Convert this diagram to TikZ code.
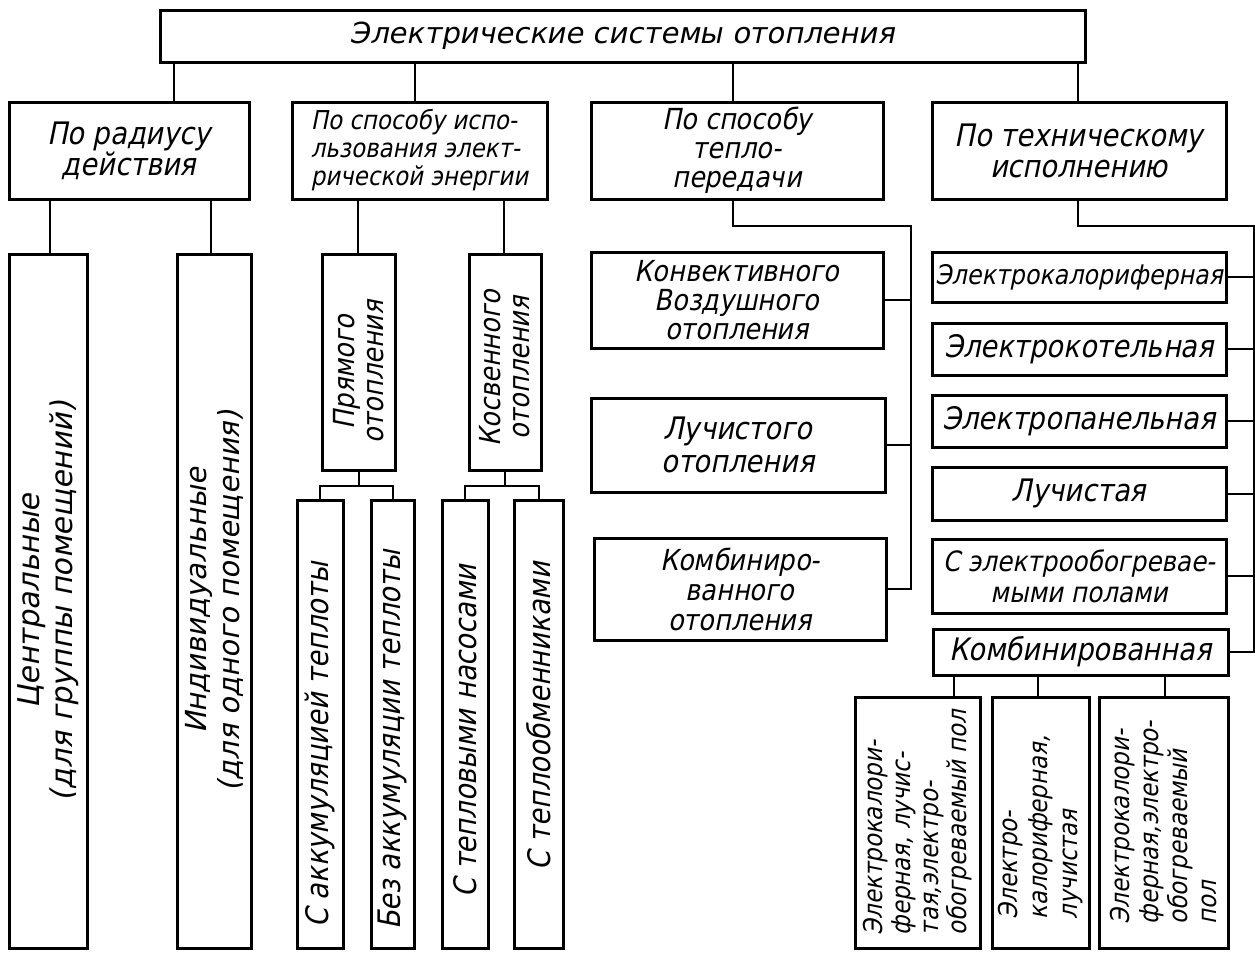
\documentclass[tikz,border=0pt]{standalone}
\usepackage{fontspec}
\newfontfamily\gf{DejaVu Sans}[FakeStretch=0.88,FakeSlant=0.2]
\newfontfamily\gfw{DejaVu Sans}[FakeStretch=1.0,FakeSlant=0.2]
\newcommand\fsz[2]{\fontsize{#1}{#2}\selectfont}
\begin{document}
\begin{tikzpicture}[x=1pt,y=-1pt,
  bx/.style 2 args={draw,line width=3pt,inner sep=0pt,minimum width=#1,minimum height=#2},
  tt/.style={align=center,font=\gf\fsz{31}{31}},
  rot/.style={rotate=90,inner sep=0pt,align=center},
  rotl/.style={rotate=90,inner sep=0pt,align=left},
  link/.style={line width=2pt}]
\useasboundingbox (0,0) rectangle (1255,953);
% top
\node[bx={925pt}{52pt},font=\gfw\fsz{29}{29}] (top) at (622.5,36) {Электрические системы отопления};
% level 2
\node[bx={240pt}{97pt},tt] (b1) at (129,150.5) {По радиусу\\действия};
\node[bx={255pt}{97pt},align=left,font=\gf\fsz{26}{28}] (b2) at (419.5,150.5) {По способу испо-\\льзования элект-\\рической энергии};
\node[bx={292pt}{97pt},tt,font=\gf\fsz{29}{29}] (b3) at (737,150.5) {По способу\\тепло-\\передачи};
\node[bx={294pt}{97pt},tt] (b4) at (1079,150.5) {По техническому\\исполнению};
% left tall boxes
\node[bx={78pt}{694pt}] (c1) at (48,601) {};
\node[rot,font=\gfw\fsz{30}{33}] (c1t) at (c1.center) {Центральные\\(для группы помещений)};
\node[bx={74pt}{694pt}] (c2) at (214,601) {};
\node[rot,font=\gfw\fsz{29}{33}] (c2t) at (c2.center) {Индивидуальные\\(для одного помещения)};
\node[bx={73pt}{216pt}] (c3) at (358.5,362) {};
\node[rot,font=\gf\fsz{29}{29}] (c3t) at ([yshift=-10pt]c3.center) {Прямого\\отопления};
\node[bx={72pt}{216pt}] (c4) at (505,362) {};
\node[rot,font=\gf\fsz{29}{29}] (c4t) at ([yshift=-6pt]c4.center) {Косвенного\\отопления};
\node[bx={46pt}{448pt}] (d1) at (320,724) {};
\node[rot,font=\gf\fsz{31}{31}] (d1t) at ([yshift=-21pt]d1.center) {С аккумуляцией теплоты};
\node[bx={43pt}{448pt}] (d2) at (392.5,724) {};
\node[rot,font=\gf\fsz{31}{31}] (d2t) at ([yshift=-16pt]d2.center) {Без аккумуляции теплоты};
\node[bx={46pt}{448pt}] (d3) at (465,724) {};
\node[rot,font=\gf\fsz{31}{31}] (d3t) at ([yshift=-7pt]d3.center) {С тепловыми насосами};
\node[bx={49pt}{448pt}] (d4) at (538.5,724) {};
\node[rot,font=\gf\fsz{31}{31}] (d4t) at ([yshift=8pt]d4.center) {С теплообменниками};
% middle column
\node[bx={292pt}{96pt},tt,font=\gf\fsz{29}{29}] (e1) at (737,300) {Конвективного\\Воздушного\\отопления};
\node[bx={294pt}{94pt},tt,font=\gf\fsz{31}{33}] (e2) at (738,445) {Лучистого\\отопления};
\node[bx={292pt}{102pt},tt,font=\gf\fsz{29}{30}] (e3) at (740,589) {Комбиниро-\\ванного\\отопления};
% right column
\node[bx={294pt}{50pt},tt,font=\gf\fsz{27}{27}] (f1) at (1079,277) {Электрокалориферная};
\node[bx={294pt}{52pt},tt] (f2) at (1079,349) {Электрокотельная};
\node[bx={294pt}{52pt},tt] (f3) at (1079,421) {Электропанельная};
\node[bx={294pt}{53pt},tt] (f4) at (1079,493.5) {Лучистая};
\node[bx={294pt}{74pt},tt,font=\gf\fsz{28}{31}] (f5) at (1079,576) {С электрообогревае-\\мыми полами};
\node[bx={295pt}{46pt},tt] (f6) at (1080.5,652) {Комбинированная};
% bottom right
\node[bx={125pt}{251pt}] (g1) at (917.5,822.5) {};
\node[rotl,font=\gf\fsz{26}{28}] (g1t) at (g1.center) {Электрокалори-\\ферная, лучис-\\тая,электро-\\обогреваемый пол};
\node[bx={97pt}{251pt}] (g2) at (1040.5,822.5) {};
\node[rotl,font=\gf\fsz{26}{30}] (g2t) at ([yshift=-5pt]g2.center) {Электро-\\калориферная,\\лучистая};
\node[bx={129pt}{251pt}] (g3) at (1163.5,822.5) {};
\node[rotl,font=\gf\fsz{26}{29}] (g3t) at (g3.center) {Электрокалори-\\ферная,электро-\\обогреваемый\\пол};
% connector reference coordinates
\coordinate (k1) at (174,0);
\coordinate (k2) at (415,0);
\coordinate (k3) at (733,0);
\coordinate (k4) at (1078,0);
\coordinate (m1) at (50,0);
\coordinate (m2) at (211,0);
\coordinate (m3) at (358,0);
\coordinate (m4) at (504,0);
\coordinate (pb) at (0,486);
\coordinate (n1) at (954,0);
\coordinate (n2) at (1038,0);
\coordinate (n3) at (1165,0);
\coordinate (r1) at (911,226);
\coordinate (r2) at (1254,226);
% connectors
\draw[link] (top.south -| k1) -- (b1.north -| k1);
\draw[link] (top.south -| k2) -- (b2.north -| k2);
\draw[link] (top.south -| k3) -- (b3.north -| k3);
\draw[link] (top.south -| k4) -- (b4.north -| k4);
\draw[link] (b1.south -| m1) -- (c1.north -| m1);
\draw[link] (b1.south -| m2) -- (c2.north -| m2);
\draw[link] (b2.south -| m3) -- (c3.north -| m3);
\draw[link] (b2.south -| m4) -- (c4.north -| m4);
\draw[link] (c3.south) -- (c3.south |- pb);
\draw[link] (d1.north) |- (c3.south |- pb) -| (d2.north);
\draw[link] (c4.south) -- (c4.south |- pb);
\draw[link] (d3.north) |- (c4.south |- pb) -| (d4.north);
\draw[link] (b3.south -| k3) |- (r1) -- (r1 |- e3.east) -- (e3.east);
\draw[link] (e1.east) -- (e1.east -| r1);
\draw[link] (e2.east) -- (e2.east -| r1);
\draw[link] (b4.south -| k4) |- (r2) -- (r2 |- f6.east) -- (f6.east);
\foreach \f in {f1,f2,f3,f4,f5} \draw[link] (\f.east) -- (\f.east -| r2);
\draw[link] (f6.south -| n1) -- (g1.north -| n1);
\draw[link] (f6.south -| n2) -- (g2.north -| n2);
\draw[link] (f6.south -| n3) -- (g3.north -| n3);
\end{tikzpicture}
\end{document}
